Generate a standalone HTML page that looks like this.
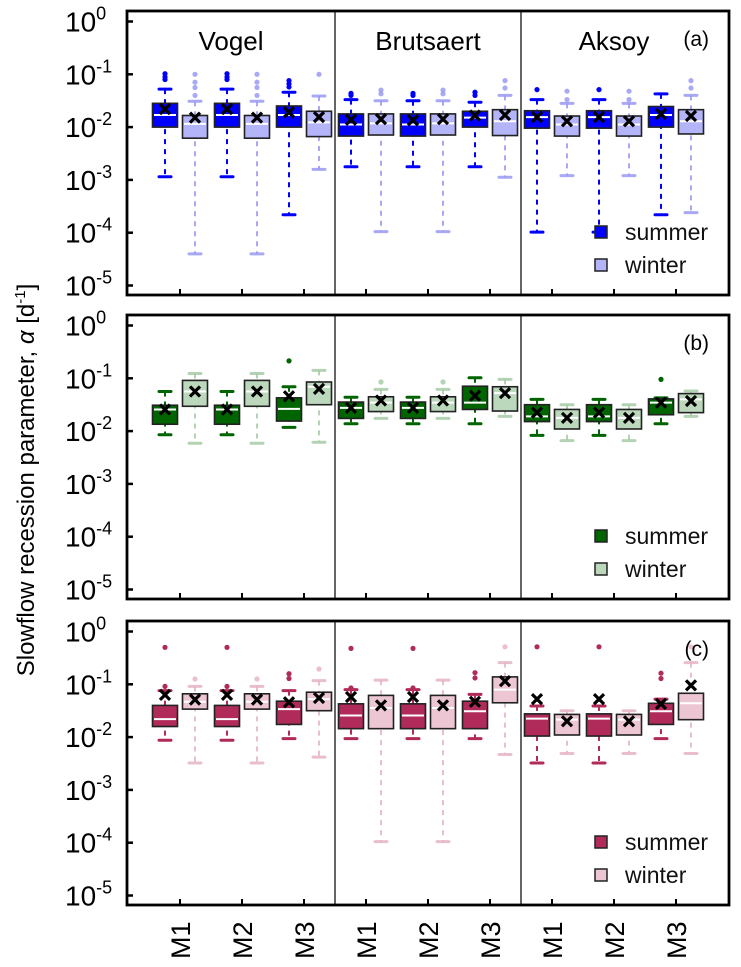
<!DOCTYPE html>
<html><head><meta charset="utf-8">
<style>
html,body{margin:0;padding:0;background:#fff;}
svg{display:block;font-family:"Liberation Sans",sans-serif;}
</style></head>
<body>
<svg id="chart" width="741" height="967" viewBox="0 0 741 967"></svg>
<script>
// Categories
const models = ["M1","M2","M3","M1","M2","M3","M1","M2","M3"];
const methods = ["Vogel","Brutsaert","Aksoy"];
const panelLabels = ["(a)","(b)","(c)"];
const tickExps = [0,-1,-2,-3,-4,-5];
// Values in log10 of alpha. Panel a (blue)
const aSumQ3 = [-1.55,-1.55,-1.60,-1.75,-1.75,-1.70,-1.69,-1.69,-1.61];
const aSumQ1 = [-2.00,-2.00,-2.00,-2.17,-2.17,-2.00,-2.02,-2.02,-2.00];
const aSumMed = [-1.77,-1.77,-1.77,-1.95,-1.95,-1.82,-1.81,-1.81,-1.77];
const aSumMean = [-1.66,-1.66,-1.72,-1.86,-1.87,-1.78,-1.81,-1.81,-1.75];
const aSumHi = [-1.28,-1.28,-1.34,-1.48,-1.50,-1.53,-1.48,-1.48,-1.37];
const aSumLo = [-2.94,-2.94,-3.66,-2.75,-2.75,-2.75,-3.99,-3.99,-3.66];
const aSumOut = [[-0.99,-1.05,-1.1],[-0.99,-1.05,-1.1],[-1.12,-1.18,-1.24],[-1.40,-1.36],[-1.40,-1.36],[-1.34,-1.40],[-1.29],[-1.29],[]];
const aWinQ3 = [-1.78,-1.78,-1.70,-1.75,-1.75,-1.67,-1.79,-1.79,-1.67];
const aWinQ1 = [-2.21,-2.21,-2.18,-2.15,-2.15,-2.16,-2.17,-2.17,-2.13];
const aWinMed = [-1.94,-1.94,-1.91,-1.93,-1.93,-1.89,-1.95,-1.95,-1.89];
const aWinMean = [-1.82,-1.82,-1.81,-1.85,-1.85,-1.77,-1.89,-1.89,-1.79];
const aWinHi = [-1.51,-1.51,-1.41,-1.50,-1.50,-1.40,-1.55,-1.55,-1.40];
const aWinLo = [-4.40,-4.40,-2.80,-3.98,-3.98,-2.95,-2.92,-2.92,-3.62];
const aWinOut = [[-1.0,-1.15,-1.25,-1.4],[-1.0,-1.15,-1.25,-1.4],[-1.0],[-1.3,-1.37],[-1.3,-1.37],[-1.12,-1.26],[-1.32,-1.48],[-1.32,-1.48],[-1.12,-1.26]];
// Panel b (green)
const bSumQ3 = [-1.51,-1.51,-1.37,-1.45,-1.45,-1.15,-1.50,-1.50,-1.39];
const bSumQ1 = [-1.87,-1.87,-1.81,-1.76,-1.76,-1.59,-1.82,-1.82,-1.69];
const bSumMed = [-1.59,-1.59,-1.58,-1.56,-1.56,-1.46,-1.72,-1.72,-1.46];
const bSumMean = [-1.59,-1.59,-1.34,-1.56,-1.56,-1.33,-1.65,-1.65,-1.46];
const bSumHi = [-1.25,-1.25,-1.16,-1.36,-1.36,-0.99,-1.40,-1.40,-1.37];
const bSumLo = [-2.07,-2.07,-1.93,-1.86,-1.86,-1.86,-2.08,-2.08,-1.86];
const bSumOut = [[],[],[-0.67],[],[],[],[],[],[-1.02]];
const bWinQ3 = [-1.04,-1.04,-1.07,-1.35,-1.35,-1.16,-1.59,-1.59,-1.29];
const bWinQ1 = [-1.53,-1.53,-1.50,-1.63,-1.63,-1.62,-1.96,-1.96,-1.65];
const bWinMed = [-1.25,-1.25,-1.16,-1.46,-1.46,-1.28,-1.75,-1.75,-1.40];
const bWinMean = [-1.25,-1.25,-1.20,-1.42,-1.42,-1.28,-1.75,-1.75,-1.43];
const bWinHi = [-0.91,-0.91,-0.85,-1.21,-1.21,-1.02,-1.50,-1.50,-1.24];
const bWinLo = [-2.23,-2.23,-2.21,-1.76,-1.76,-1.72,-2.18,-2.18,-1.72];
const bWinOut = [[],[],[],[-1.07],[-1.07],[],[],[],[]];
// Panel c (pink)
const cSumQ3 = [-1.40,-1.40,-1.32,-1.37,-1.37,-1.32,-1.56,-1.56,-1.36];
const cSumQ1 = [-1.80,-1.80,-1.76,-1.84,-1.84,-1.84,-1.98,-1.98,-1.76];
const cSumMed = [-1.66,-1.66,-1.47,-1.59,-1.59,-1.51,-1.65,-1.65,-1.51];
const cSumMean = [-1.20,-1.20,-1.34,-1.24,-1.24,-1.33,-1.28,-1.28,-1.37];
const cSumHi = [-1.12,-1.12,-1.12,-1.10,-1.10,-1.19,-1.41,-1.41,-1.28];
const cSumLo = [-2.06,-2.06,-2.03,-2.03,-2.03,-2.03,-2.49,-2.49,-2.03];
const cSumOut = [[-0.30,-1.04],[-0.30,-1.04],[-0.80,-0.89],[-0.32,-1.07],[-0.32,-1.07],[-0.78,-0.88],[-0.29],[-0.29],[-0.79,-0.89]];
const cWinQ3 = [-1.18,-1.18,-1.15,-1.21,-1.21,-0.86,-1.57,-1.57,-1.17];
const cWinQ1 = [-1.47,-1.47,-1.50,-1.84,-1.84,-1.35,-1.96,-1.96,-1.67];
const cWinMed = [-1.33,-1.33,-1.28,-1.45,-1.45,-1.10,-1.67,-1.67,-1.36];
const cWinMean = [-1.29,-1.29,-1.26,-1.40,-1.40,-0.94,-1.70,-1.70,-1.02];
const cWinHi = [-1.04,-1.04,-0.93,-0.92,-0.92,-0.59,-1.50,-1.50,-0.59];
const cWinLo = [-2.49,-2.49,-2.38,-3.98,-3.98,-2.33,-2.31,-2.31,-2.31];
const cWinOut = [[-0.90],[-0.90],[-0.71],[],[],[-0.29],[],[],[-0.29]];

const NS="http://www.w3.org/2000/svg";
const svg=document.getElementById('chart');
function mk(tag,attrs,parent){const e=document.createElementNS(NS,tag);for(const k in attrs)e.setAttribute(k,attrs[k]);(parent||svg).appendChild(e);return e;}

const panelTops=[11,315,621];
const panelH=284, left=127, right=729, decade=52.8;
const yScale=(p,v)=>panelTops[p]+10.5+(-v)*decade;
const xScale=(i)=>180+62*i;

const panels=[
 {sc:"#0000ff",wc:"#b4b4f8",wl:"#9a9af4",s:[aSumQ3,aSumQ1,aSumMed,aSumMean,aSumHi,aSumLo,aSumOut],w:[aWinQ3,aWinQ1,aWinMed,aWinMean,aWinHi,aWinLo,aWinOut]},
 {sc:"#006400",wc:"#bcd8bc",wl:"#a8cca8",s:[bSumQ3,bSumQ1,bSumMed,bSumMean,bSumHi,bSumLo,bSumOut],w:[bWinQ3,bWinQ1,bWinMed,bWinMean,bWinHi,bWinLo,bWinOut]},
 {sc:"#b02a5a",wc:"#ecc6d2",wl:"#e6b4c5",s:[cSumQ3,cSumQ1,cSumMed,cSumMean,cSumHi,cSumLo,cSumOut],w:[cWinQ3,cWinQ1,cWinMed,cWinMean,cWinHi,cWinLo,cWinOut]}
];

function drawBox(g,p,cx,d,i,fill,lineCol,op){
  const [q3,q1,med,mean,hi,lo,out]=d;
  const yq3=yScale(p,q3[i]),yq1=yScale(p,q1[i]),yhi=yScale(p,hi[i]),ylo=yScale(p,lo[i]);
  const wl=mk('line',{x1:cx,x2:cx,y1:yhi,y2:ylo,stroke:lineCol,'stroke-width':2,'stroke-dasharray':'5,5',opacity:op},g);
  
  
  [yhi,ylo].forEach(yy=>{const c=mk('line',{x1:cx-6,x2:cx+6,y1:yy,y2:yy,stroke:lineCol,'stroke-width':3,'stroke-linecap':'round',opacity:op},g);
    
    });
  out[i].forEach(v=>{const o=mk('circle',{cx:cx,cy:yScale(p,v),r:2.6,fill:lineCol,opacity:op},g);
    
    });
  const r=mk('rect',{x:cx-12.5,y:yq3,width:25,height:yq1-yq3,fill:fill,stroke:'#222','stroke-width':1.6},g);
  
  
  const ym=yScale(p,med[i]);
  const m=mk('line',{x1:cx-11,x2:cx+11,y1:ym,y2:ym,stroke:'#fff','stroke-width':2},g);
  
  
  const ymn=yScale(p,mean[i]);
  const x=mk('path',{d:`M${cx-5},${ymn-5}L${cx+5},${ymn+5}M${cx+5},${ymn-5}L${cx-5},${ymn+5}`,stroke:'#000','stroke-width':3.2,fill:'none'},g);
  
  
}

panels.forEach((P,p)=>{
  const top=panelTops[p];
  const g=mk('g',{});
  
  
  [335,521].forEach(xx=>{const l=mk('line',{x1:xx,x2:xx,y1:top,y2:top+panelH,stroke:'#333','stroke-width':1.5},g);
    
    });
  tickExps.forEach(e=>{const yy=yScale(p,e);
    const t=mk('line',{x1:left,x2:left+6,y1:yy,y2:yy,stroke:'#000','stroke-width':2.5},g);
    
    
    const tx=mk('text',{x:65,y:yy+10,'font-size':28,fill:'#000'},g);
    
    
    tx.appendChild(document.createTextNode('10'));
    const ts=mk('tspan',{dy:-12,'font-size':18},tx);ts.textContent=String(e);
  });
  models.forEach((m,i)=>{const xx=xScale(i);
    const t=mk('line',{x1:xx,x2:xx,y1:top+panelH,y2:top+panelH-6,stroke:'#000','stroke-width':2},g);
    
    
  });
  models.forEach((m,i)=>{
    const cx=xScale(i);
    drawBox(g,p,cx+15,P.w,i,P.wc,P.wl,0.85);
    drawBox(g,p,cx-15,P.s,i,P.sc,P.sc,1);
  });
  const f=mk('rect',{x:left,y:top,width:right-left,height:panelH,fill:'none',stroke:'#000','stroke-width':2.8},g);
  
  
  const pl=mk('text',{x:709,y:top+35,'text-anchor':'end','font-size':21,fill:'#000'},g);
  pl.textContent=panelLabels[p];
  
  
  const ly=top+222;
  [['summer',P.sc,0],['winter',P.wc,33]].forEach(([lab,col,dy])=>{
    const r=mk('rect',{x:595,y:ly+dy-7,width:12,height:12,fill:col,stroke:'#222','stroke-width':1.5},g);
    
    
    const t=mk('text',{x:625,y:ly+dy+7,'font-size':23,fill:'#111'},g);
    t.textContent=lab;
    
    
  });
});
[231,428,614].forEach((xx,k)=>{const t=mk('text',{x:xx,y:50,'text-anchor':'middle','font-size':26,fill:'#000'});
  t.textContent=methods[k];
  
  });
models.forEach((m,i)=>{const xx=xScale(i);
  const t=mk('text',{x:0,y:0,transform:`translate(${xx+10},959) rotate(-90)`,'font-size':27,fill:'#000'});
  t.textContent=m;
  
  });
const yt=mk('text',{x:0,y:0,transform:'translate(34,480) rotate(-90)','text-anchor':'middle','font-size':24,fill:'#000'});


yt.appendChild(document.createTextNode('Slowflow recession parameter, '));
const ita=mk('tspan',{'font-style':'italic'},yt);ita.textContent='α';
yt.appendChild(document.createTextNode(' [d'));
const sup=mk('tspan',{dy:-9,'font-size':15},yt);sup.textContent='-1';
const cl=mk('tspan',{dy:9},yt);cl.textContent=']';
</script>
</body></html>
